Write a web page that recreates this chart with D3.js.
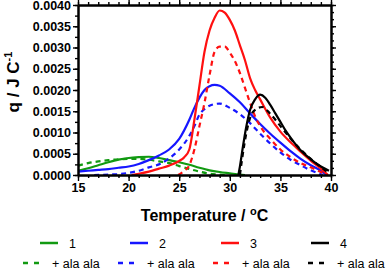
<!DOCTYPE html>
<html>
<head>
<meta charset="utf-8">
<script src="https://cdn.jsdelivr.net/npm/d3@7"></script>
<style>
  body { margin: 0; background: #fff; }
  svg { display: block; font-family: "Liberation Sans", Arial, sans-serif; }
  .axis text { font-size: 12.5px; font-weight: bold; fill: #000; }
  .axis path, .axis line { stroke: #000; }
</style>
</head>
<body>
<div id="chart"></div>
<script>
// DATA ------------------------------
const s1T = [15,16,17,18,19,20,21,22,23,24,25,26,27,28,29,30,31,31.5];
const s1V = [0.0001,0.00016,0.00023,0.0003,0.00036,0.0004,0.00042,0.00043,0.0004,0.00035,0.0003,0.00024,0.00017,0.00011,0.00007,0.00004,0.00001,0];
const s1aT = [15,16,17,18,19,20,21,22,23,24,25,26,27,28,29,29.5];
const s1aV = [0.00022,0.00028,0.00032,0.00035,0.00037,0.00038,0.00038,0.00036,0.00032,0.00028,0.00021,0.00014,0.00008,0.00003,0.00001,0];

const s2T = [15,16,17,18,19,20,21,22,23,24,25,26,26.5,27,27.5,28,28.5,29,30,31,32,33,34,35,36,37,38,39,39.6];
const s2V = [0.00008,0.0001,0.00012,0.00014,0.00017,0.0002,0.00026,0.00035,0.00046,0.0006,0.00085,0.0013,0.00158,0.00182,0.002,0.00209,0.00212,0.0021,0.00192,0.00171,0.00145,0.0012,0.00097,0.00076,0.00056,0.00038,0.00023,0.0001,0];
const s2aT = [16.6,18,19,20,21,22,23,24,25,26,26.5,27,27.5,28,29,30,31,32,33,34,35,36,37,38,39.2];
const s2aV = [0,0.00001,0.00002,0.00005,0.0001,0.00018,0.00025,0.00039,0.0006,0.00092,0.00115,0.00142,0.00155,0.00163,0.00168,0.00158,0.00143,0.00122,0.00097,0.00074,0.00053,0.00036,0.00023,0.00011,0];

const s3T = [20.3,21,22,23,24,25,25.5,26,26.5,27,27.5,28,28.5,29,29.5,30,30.5,31,31.5,32,32.5,33,34,35,36,37,38,39,39.7];
const s3V = [0,0.00003,0.00008,0.00015,0.00022,0.00033,0.00042,0.0006,0.0013,0.0021,0.0029,0.0034,0.0037,0.00387,0.00382,0.00365,0.0034,0.00305,0.0027,0.00228,0.002,0.00178,0.00135,0.00102,0.00077,0.00055,0.00034,0.00015,0];
const s3aT = [24.9,25.5,26,26.5,27,27.5,28,28.5,29,29.5,30,30.5,31,31.5,32,32.5,33,34,35,36,37,38,39,39.6];
const s3aV = [0,0.0001,0.00023,0.0006,0.00115,0.0017,0.00235,0.0029,0.00302,0.00302,0.00288,0.00268,0.0024,0.00205,0.0017,0.00138,0.00115,0.00085,0.0006,0.00042,0.00028,0.00018,0.00007,0];

const s4T = [30.85,31,31.3,31.6,32,32.5,33,33.5,34,34.5,35,35.5,36,37,38,39,39.8];
const s4V = [0,0.0002,0.00067,0.0011,0.00153,0.00178,0.00189,0.00182,0.00165,0.00145,0.00125,0.00105,0.00088,0.00058,0.00037,0.0002,0.0001];
const s4aT = [31,31.2,31.7,32.3,33.2,34,35,36,37,38,39,39.6];
const s4aV = [0,0.00035,0.00106,0.00149,0.0016,0.00144,0.00115,0.00086,0.0006,0.00038,0.00019,0.00008];

const xTicks = [15,20,25,30,35,40];
const yTicks = [0,0.0005,0.001,0.0015,0.002,0.0025,0.003,0.0035,0.004];
const legendLabels = ["1","2","3","4"];
const colors = ["#129a12","#1616ff","#ff1010","#000000"];

const series = [
  {T: s1T, V: s1V, c: 0, dash: false}, {T: s1aT, V: s1aV, c: 0, dash: true},
  {T: s2T, V: s2V, c: 1, dash: false}, {T: s2aT, V: s2aV, c: 1, dash: true},
  {T: s3T, V: s3V, c: 2, dash: false}, {T: s3aT, V: s3aV, c: 2, dash: true},
  {T: s4T, V: s4V, c: 3, dash: false}, {T: s4aT, V: s4aV, c: 3, dash: true}
];

// CHART INIT ------------------------------
const margin = ({top: 5, right: 61, bottom: 95, left: 78});
const width = 392 - margin.left - margin.right;
const height = 270 - margin.top - margin.bottom;

const root = d3.select('#chart').append('svg')
  .attr('width', 392)
  .attr('height', 270);
const svg = root.append('g')
  .attr("transform", "translate(" + margin.left + "," + margin.top + ")");

const xScale = d3.scaleLinear().domain([15, 40]).range([0, width]);
const yScale = d3.scaleLinear().domain([0, 0.004]).range([height, 0]);

// curves
const line = d3.line()
  .x(d => xScale(d[0]))
  .y(d => yScale(d[1]))
  .curve(d3.curveMonotoneX);

svg.selectAll(".curve")
  .data(series)
  .enter()
  .append("path")
  .attr("class", "curve")
  .attr("fill", "none")
  .attr("stroke", d => colors[d.c])
  .attr("stroke-width", 2.2)
  .attr("stroke-dasharray", d => d.dash ? "5,4" : null)
  .attr("d", d => line(d.T.map((t, i) => [t, d.V[i]])));

// axes
const minorX = d3.range(15, 41, 1);
const minorYLeft = d3.range(0, 0.00401, 0.00025);
const minorYRight = d3.range(0, 25).map(i => i * 0.0005 / 3).filter(v => v <= 0.00401);

function styleAxis(g, w) {
  g.select(".domain").attr("stroke-width", w);
  g.selectAll(".tick line").attr("stroke-width", 1.4);
}

svg.append("g").attr("class", "axis")
  .attr("transform", "translate(0," + height + ")")
  .call(d3.axisBottom(xScale).tickValues(minorX).tickSize(3).tickFormat("").tickSizeOuter(0))
  .call(g => styleAxis(g, 2));
svg.append("g").attr("class", "axis")
  .attr("transform", "translate(0," + height + ")")
  .call(d3.axisBottom(xScale).tickValues(xTicks).tickSize(6).tickSizeOuter(0).tickPadding(2))
  .call(g => styleAxis(g, 2));

svg.append("g").attr("class", "axis")
  .call(d3.axisTop(xScale).tickValues(minorX).tickSize(3).tickFormat("").tickSizeOuter(0))
  .call(g => styleAxis(g, 2));
svg.append("g").attr("class", "axis")
  .call(d3.axisTop(xScale).tickValues(xTicks).tickSize(6).tickFormat("").tickSizeOuter(0))
  .call(g => styleAxis(g, 2));

svg.append("g").attr("class", "axis")
  .call(d3.axisLeft(yScale).tickValues(minorYLeft).tickSize(3).tickFormat("").tickSizeOuter(0))
  .call(g => styleAxis(g, 2));
svg.append("g").attr("class", "axis")
  .call(d3.axisLeft(yScale).tickValues(yTicks).tickSize(5).tickSizeOuter(0).tickPadding(2)
    .tickFormat(d3.format(".4f")))
  .call(g => styleAxis(g, 2));

svg.append("g").attr("class", "axis")
  .attr("transform", "translate(" + width + ",0)")
  .call(d3.axisRight(yScale).tickValues(minorYRight).tickSize(3).tickFormat("").tickSizeOuter(0))
  .call(g => styleAxis(g, 2));
svg.append("g").attr("class", "axis")
  .attr("transform", "translate(" + width + ",0)")
  .call(d3.axisRight(yScale).tickValues(yTicks).tickSize(5).tickFormat("").tickSizeOuter(0))
  .call(g => styleAxis(g, 2));

// axis titles
const xTitle = root.append("text")
  .attr("x", margin.left + width / 2)
  .attr("y", 221)
  .attr("text-anchor", "middle")
  .style("font-size", "16px")
  .style("font-weight", "bold");
xTitle.append("tspan").text("Temperature / ");
xTitle.append("tspan").attr("dy", -6).style("font-size", "11px").text("o");
xTitle.append("tspan").attr("dy", 6).text("C");

const yTitle = root.append("text")
  .attr("transform", "translate(19,82) rotate(-90)")
  .attr("text-anchor", "middle")
  .style("font-size", "17px")
  .style("font-weight", "bold");
yTitle.append("tspan").text("q / J C");
yTitle.append("tspan").attr("dy", -7).style("font-size", "11px").text("-1");

// legend
const legend = root.append("g");
const solidX = [40, 130, 221, 311];
const dashX = [23, 118, 213, 308];

legend.selectAll(".leg-solid")
  .data(legendLabels)
  .enter().append("line")
  .attr("x1", (d, i) => solidX[i]).attr("x2", (d, i) => solidX[i] + 18)
  .attr("y1", 243).attr("y2", 243)
  .attr("stroke", (d, i) => colors[i]).attr("stroke-width", 2.5);
legend.selectAll(".leg-solid-t")
  .data(legendLabels)
  .enter().append("text")
  .attr("x", (d, i) => solidX[i] + 29).attr("y", 247.5)
  .style("font-size", "12.5px")
  .text(d => d);

legend.selectAll(".leg-dash")
  .data(legendLabels)
  .enter().append("line")
  .attr("x1", (d, i) => dashX[i]).attr("x2", (d, i) => dashX[i] + 18)
  .attr("y1", 263).attr("y2", 263)
  .attr("stroke", (d, i) => colors[i]).attr("stroke-width", 2.5)
  .attr("stroke-dasharray", "5,6");
legend.selectAll(".leg-dash-t")
  .data(legendLabels)
  .enter().append("text")
  .attr("x", (d, i) => dashX[i] + 29).attr("y", 267.5)
  .style("font-size", "12.5px")
  .text("+ ala ala");
</script>
</body>
</html>
